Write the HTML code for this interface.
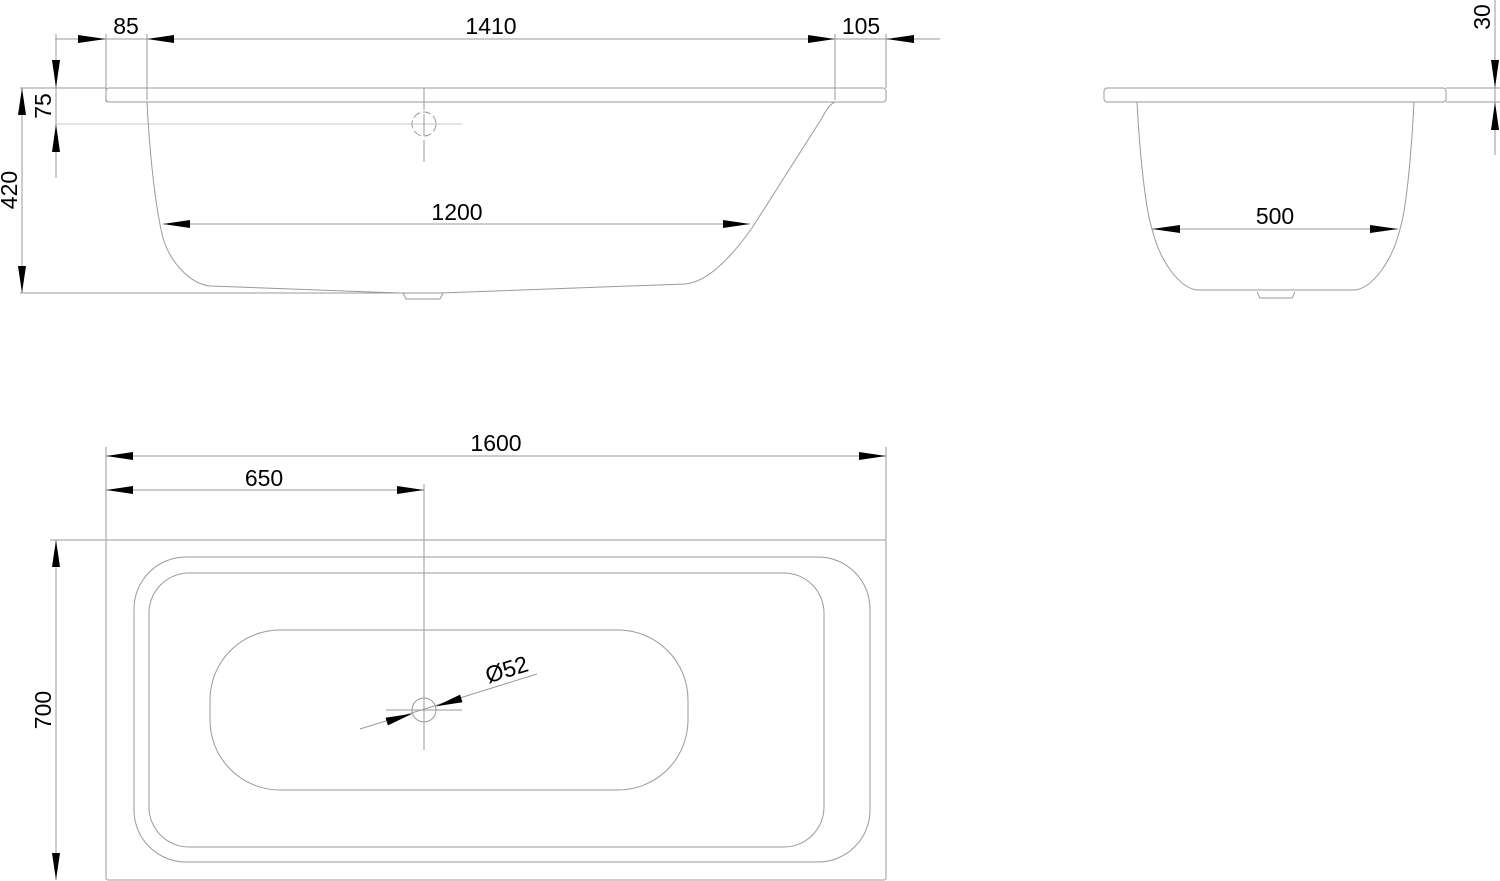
<!DOCTYPE html>
<html><head><style>
html,body{margin:0;padding:0;background:#fff;}
svg{display:block;}
text{font-family:"Liberation Sans",sans-serif;font-size:23px;fill:#000;}
</style></head><body>
<svg width="1500" height="881" viewBox="0 0 1500 881" xmlns="http://www.w3.org/2000/svg">
<g stroke="#9a9a9a" stroke-width="1" fill="none">
<line x1="55" y1="39" x2="940" y2="39"/>
<line x1="106" y1="34" x2="106" y2="102"/>
<line x1="147" y1="34" x2="147" y2="100"/>
<line x1="835" y1="34" x2="835" y2="100"/>
<line x1="886" y1="34" x2="886" y2="88"/>
<rect x="106" y="88" width="780" height="14" rx="3"/>
<line x1="20" y1="88" x2="106" y2="88"/>
<line x1="22" y1="88" x2="22" y2="293"/>
<line x1="20" y1="293" x2="440" y2="293"/>
<line x1="56" y1="34" x2="56" y2="178"/>
<line x1="56" y1="124" x2="462" y2="124" stroke="#c8c8c8"/>
<path d="M147 102 C150 160 156 210 163 238 C170 262 190 284 210 286 L400 293 L440 293 L685 284 C710 282 735 252 752 228 L822 118 C826 110 830 104 835 102"/>
<path d="M403 293 L406 299 L440 299 L443 293"/>
<circle cx="424" cy="124" r="12" stroke-dasharray="8 3"/>
<line x1="424" y1="88" x2="424" y2="162" stroke-dasharray="22 4"/>
<line x1="163" y1="224" x2="750" y2="224"/>
<rect x="1104" y="88" width="342" height="14" rx="3"/>
<line x1="1446" y1="88" x2="1500" y2="88"/>
<line x1="1446" y1="102" x2="1500" y2="102"/>
<line x1="1495" y1="0" x2="1495" y2="155"/>
<path d="M1137 102 C1140 160 1146 210 1152 229 C1160 262 1180 288 1197 290 L1355 290 C1372 288 1392 262 1400 229 C1406 210 1411 160 1414 102"/>
<path d="M1257 292 L1260 298 L1292 298 L1295 292"/>
<line x1="1152" y1="229" x2="1398" y2="229"/>
<rect x="106" y="540" width="780" height="340" rx="2"/>
<line x1="50" y1="540" x2="106" y2="540"/>
<line x1="56" y1="540" x2="56" y2="880"/>
<line x1="106" y1="447" x2="106" y2="540"/>
<line x1="886" y1="447" x2="886" y2="540"/>
<line x1="106" y1="456" x2="886" y2="456"/>
<line x1="106" y1="490" x2="424" y2="490"/>
<line x1="424" y1="484" x2="424" y2="750"/>
<rect x="134" y="557" width="736" height="305" rx="52"/>
<rect x="149" y="573" width="675" height="274" rx="40"/>
<rect x="210" y="630" width="478" height="160" rx="70"/>
<line x1="410" y1="573" x2="438" y2="573"/>
<circle cx="424" cy="710" r="12"/>
<line x1="386" y1="710" x2="462" y2="710"/>
<line x1="360" y1="729" x2="537" y2="674"/>
</g>
<g fill="#000">
<polygon points="106,39 78,35 78,43"/>
<polygon points="147,39 174,35 174,43"/>
<polygon points="835,39 808,35 808,43"/>
<polygon points="886,39 914,35 914,43"/>
<polygon points="56,88 52,60 60,60"/>
<polygon points="56,124 52,152 60,152"/>
<polygon points="22,88 18,115 26,115"/>
<polygon points="22,293 18,266 26,266"/>
<polygon points="163,224 190,220 190,228"/>
<polygon points="750,224 723,220 723,228"/>
<polygon points="1152,229 1180,225 1180,233"/>
<polygon points="1398,229 1370,225 1370,233"/>
<polygon points="1495,88 1491,60 1499,60"/>
<polygon points="1495,102 1491,130 1499,130"/>
<polygon points="106,456 133,452 133,460"/>
<polygon points="886,456 859,452 859,460"/>
<polygon points="106,490 133,486 133,494"/>
<polygon points="424,490 397,486 397,494"/>
<polygon points="56,540 52,567 60,567"/>
<polygon points="56,880 52,853 60,853"/>
<polygon points="412.5,713.6 387.9,725.4 385.5,717.8"/>
<polygon points="435.5,706.4 462.5,702.2 460.1,694.6"/>
</g>
<text x="126" y="34" text-anchor="middle">85</text>
<text x="491" y="34" text-anchor="middle">1410</text>
<text x="861" y="34" text-anchor="middle">105</text>
<text x="457" y="220" text-anchor="middle">1200</text>
<text x="1275" y="224" text-anchor="middle">500</text>
<text x="496" y="451" text-anchor="middle">1600</text>
<text x="264" y="486" text-anchor="middle">650</text>
<text transform="translate(51,106) rotate(-90)" text-anchor="middle">75</text>
<text transform="translate(17,190) rotate(-90)" text-anchor="middle">420</text>
<text transform="translate(1490,17) rotate(-90)" text-anchor="middle">30</text>
<text transform="translate(51,710) rotate(-90)" text-anchor="middle">700</text>
<text transform="translate(509,677) rotate(-17)" text-anchor="middle">Ø52</text>
</svg>
</body></html>
